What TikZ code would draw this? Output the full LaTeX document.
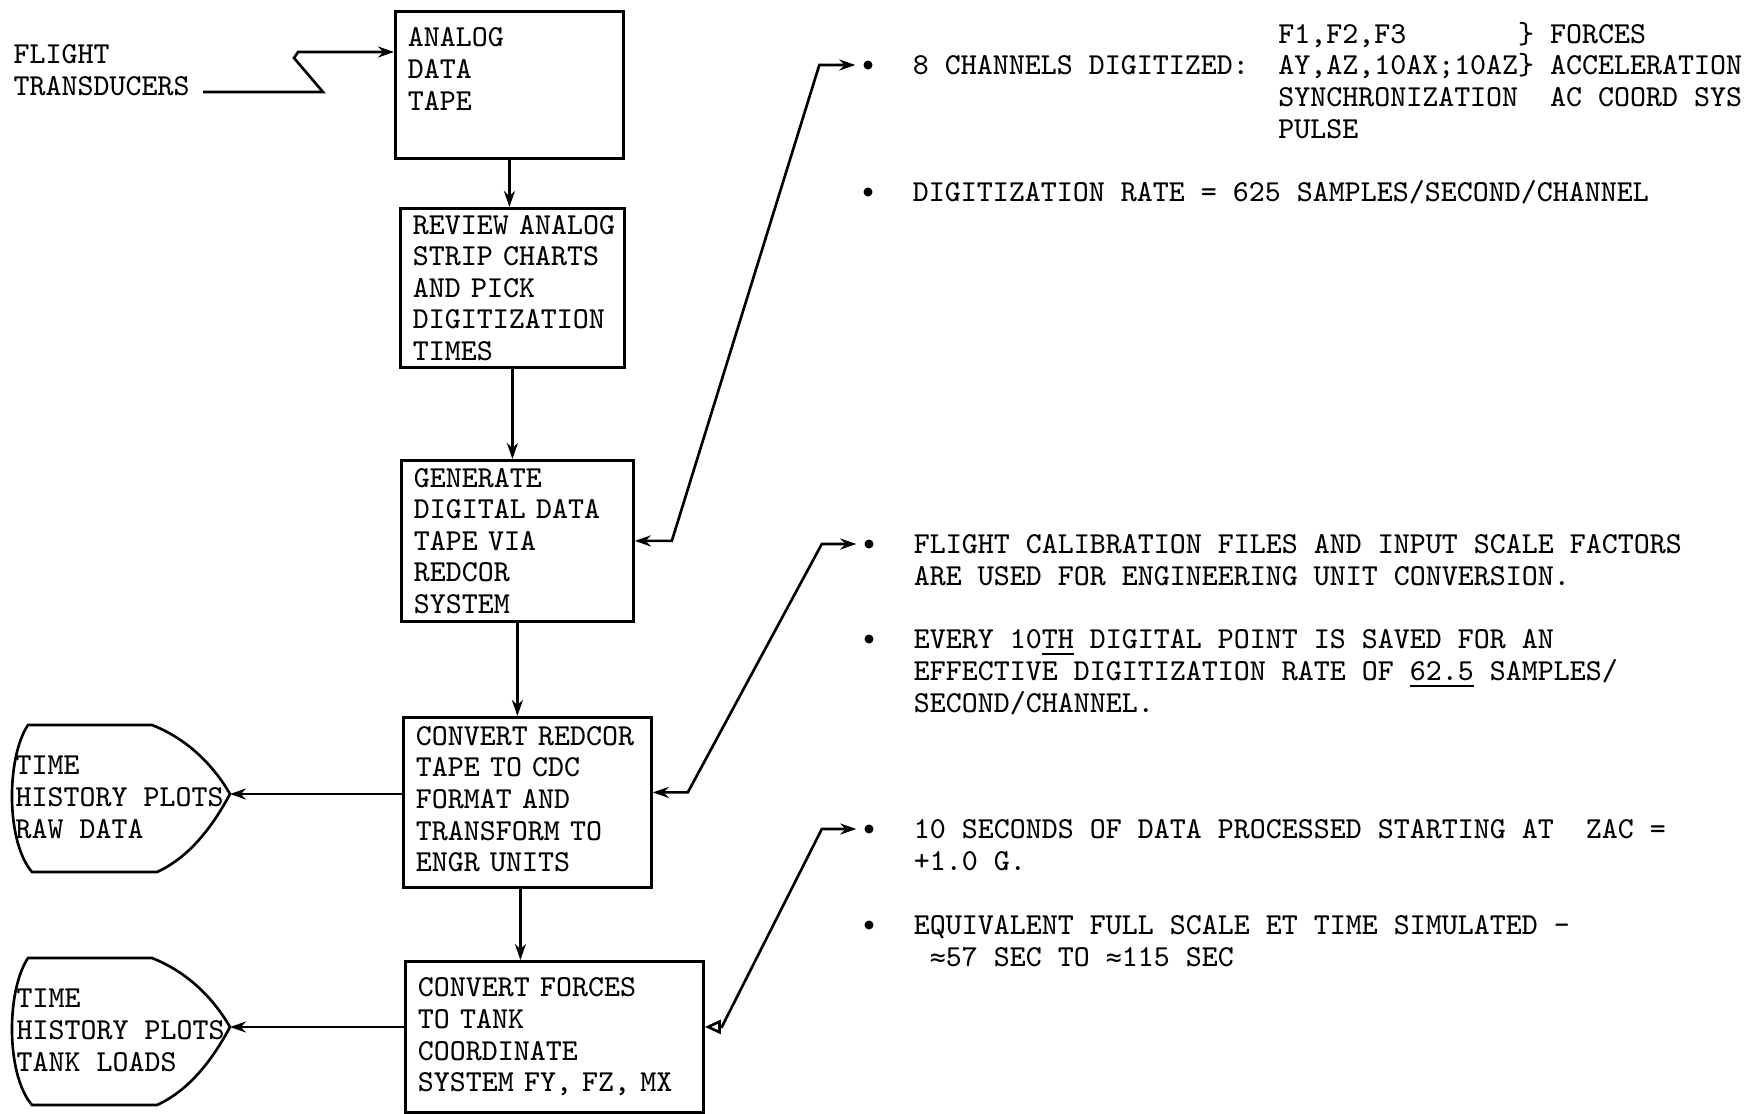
\documentclass[tikz,border=0pt]{standalone}
\usepackage{fontspec}
\usepackage{tikz}
\usetikzlibrary{positioning,arrows.meta}
\newfontfamily\apxfont[Scale=0.87]{DejaVu Sans Mono}
\newcommand{\apx}{{\apxfont ≈}}

\begin{document}
\begin{tikzpicture}[x=0.1mm,y=-0.1mm,
  font=\fontsize{8.67}{9}\selectfont\ttfamily,
  >={Stealth[length=1.6mm,width=1.1mm]},
  stepbox/.style={draw,line width=0.8pt,align=left,inner xsep=1.25mm,inner ysep=0.6mm,anchor=north west},
  note/.style={align=left,inner sep=0pt,anchor=north west},
  dot/.style={circle,fill,inner sep=0pt,minimum size=0.9mm},
  link/.style={line width=0.75pt}]
  \useasboundingbox (0,0) rectangle (1754,1113);
  % main column of processing steps
  \node[stepbox,text width=20.3mm,minimum height=14.7mm] (ana) at (394,10) {ANALOG\\DATA\\TAPE\\\mbox{}};
  \node[stepbox,text width=19.9mm,minimum height=15.9mm] (rev) at (399,207)
    {REVIEW~ANALOG\\STRIP CHARTS\\AND PICK\\DIGITIZATION\\TIMES};
  \node[stepbox,text width=20.7mm,minimum height=16.1mm] (gen) at (400,459)
    {GENERATE\\DIGITAL DATA\\TAPE VIA\\REDCOR\\SYSTEM};
  \node[stepbox,text width=22.3mm,minimum height=17mm] (conv) at (402,716)
    {CONVERT~REDCOR\\TAPE TO CDC\\FORMAT AND\\TRANSFORM TO\\ENGR UNITS\\[-2.5mm]\mbox{}};
  \node[stepbox,text width=27.3mm,minimum height=15.1mm] (forc) at (404,960)
    {CONVERT FORCES\\TO TANK\\COORDINATE\\SYSTEM FY, FZ, MX};
  \draw[link,->] (ana.south) -- (ana.south |- rev.north);
  \draw[link,->] (rev.south) -- (rev.south |- gen.north);
  \draw[link,->] (gen.south) -- (gen.south |- conv.north);
  \draw[link,->] ([xshift=-0.7mm]conv.south) -- ([xshift=-0.7mm]conv.south |- forc.north);
  % input
  \node[note] (src) at (13,41) {\strut FLIGHT\\TRANSDUCERS};
  \coordinate (tr) at (203,92);
  \draw[link,->] (tr) -- ++(120,0) -- ++(-29,-34) -- ++(4,-6) -- ([yshift=-4.2mm]ana.north west);
  % plot outputs
  \foreach \n/\dy in {raw/0,tank/233}
    \draw[link,shift={(0,\dy)}] (28,725) -- (152,725)
      .. controls (190,740) and (215,768) .. (230,794) coordinate (\n-tip)
      .. controls (215,822) and (192,856) .. (157,872) -- (32,872)
      .. controls (6,842) and (6,758) .. cycle;
  \node[note] (raw) at (15,752) {\strut TIME\\HISTORY PLOTS\\RAW DATA};
  \node[note] (tank) at (16,985) {\strut TIME\\HISTORY PLOTS\\TANK LOADS};
  \draw[link,->] (conv.west |- raw-tip) -- (raw-tip);
  \draw[link,->] (forc.west |- tank-tip) -- (tank-tip);
  % notes on the right
  \node[dot] (b1) at (868,65) {};
  \node[dot] (b2) at (868,192) {};
  \node[dot] (b3) at (869,544) {};
  \node[dot] (b4) at (869,639) {};
  \node[dot] (b5) at (869,829) {};
  \node[dot] (b6) at (869,925) {};
  \node[note,right=3.9mm of b1,anchor=north west,yshift=1.29mm] (chan) {\strut 8 CHANNELS DIGITIZED:};
  \node[note] (sig) at ([shift={(28,-31.7)}]chan.north east)
    {\strut F1,F2,F3~~~~~~~\}~FORCES\\AY,AZ,10AX;10AZ\}~ACCELERATION\\SYNCHRONIZATION~~AC COORD SYS\\PULSE};
  \node[note,right=3.9mm of b2,anchor=north west,yshift=1.29mm] (rate) {\strut DIGITIZATION RATE = 625 SAMPLES/SECOND/CHANNEL};
  \node[note,right=3.9mm of b3,anchor=north west,yshift=1.29mm] (calib)
    {\strut FLIGHT CALIBRATION FILES AND INPUT SCALE FACTORS\\ARE USED FOR ENGINEERING UNIT CONVERSION.};
  \node[note,right=3.9mm of b4,anchor=north west,yshift=1.29mm] (tenth)
    {\strut EVERY 10\underline{TH} DIGITAL POINT IS SAVED FOR AN\\EFFECTIVE DIGITIZATION RATE OF \underline{62.5} SAMPLES/\\SECOND/CHANNEL.};
  \node[note,right=3.9mm of b5,anchor=north west,yshift=1.29mm] (secs)
    {\strut 10 SECONDS OF DATA PROCESSED STARTING AT~~ZAC =\\+1.0 G.};
  \node[note,right=3.9mm of b6,anchor=north west,yshift=1.29mm] (equiv)
    {\strut EQUIVALENT FULL SCALE ET TIME SIMULATED -\\~\apx 57 SEC TO \apx 115 SEC};
  \draw[link,<->] (gen.east) -- ++(37,0) -- ([xshift=-4.35mm]b1.west) -- ([xshift=-0.75mm]b1.west);
  \draw[link,<->] ([yshift=1mm]conv.east) -- ++(35,0) -- ([xshift=-4.2mm]b3.west) -- ([xshift=-0.75mm]b3.west);
  \draw[link,{Triangle[open,length=1.6mm,width=1.4mm]}->] ([yshift=1mm]forc.east) -- ++(17,0) -- ([xshift=-4.2mm]b5.west) -- ([xshift=-0.75mm]b5.west);
\end{tikzpicture}
\end{document}
